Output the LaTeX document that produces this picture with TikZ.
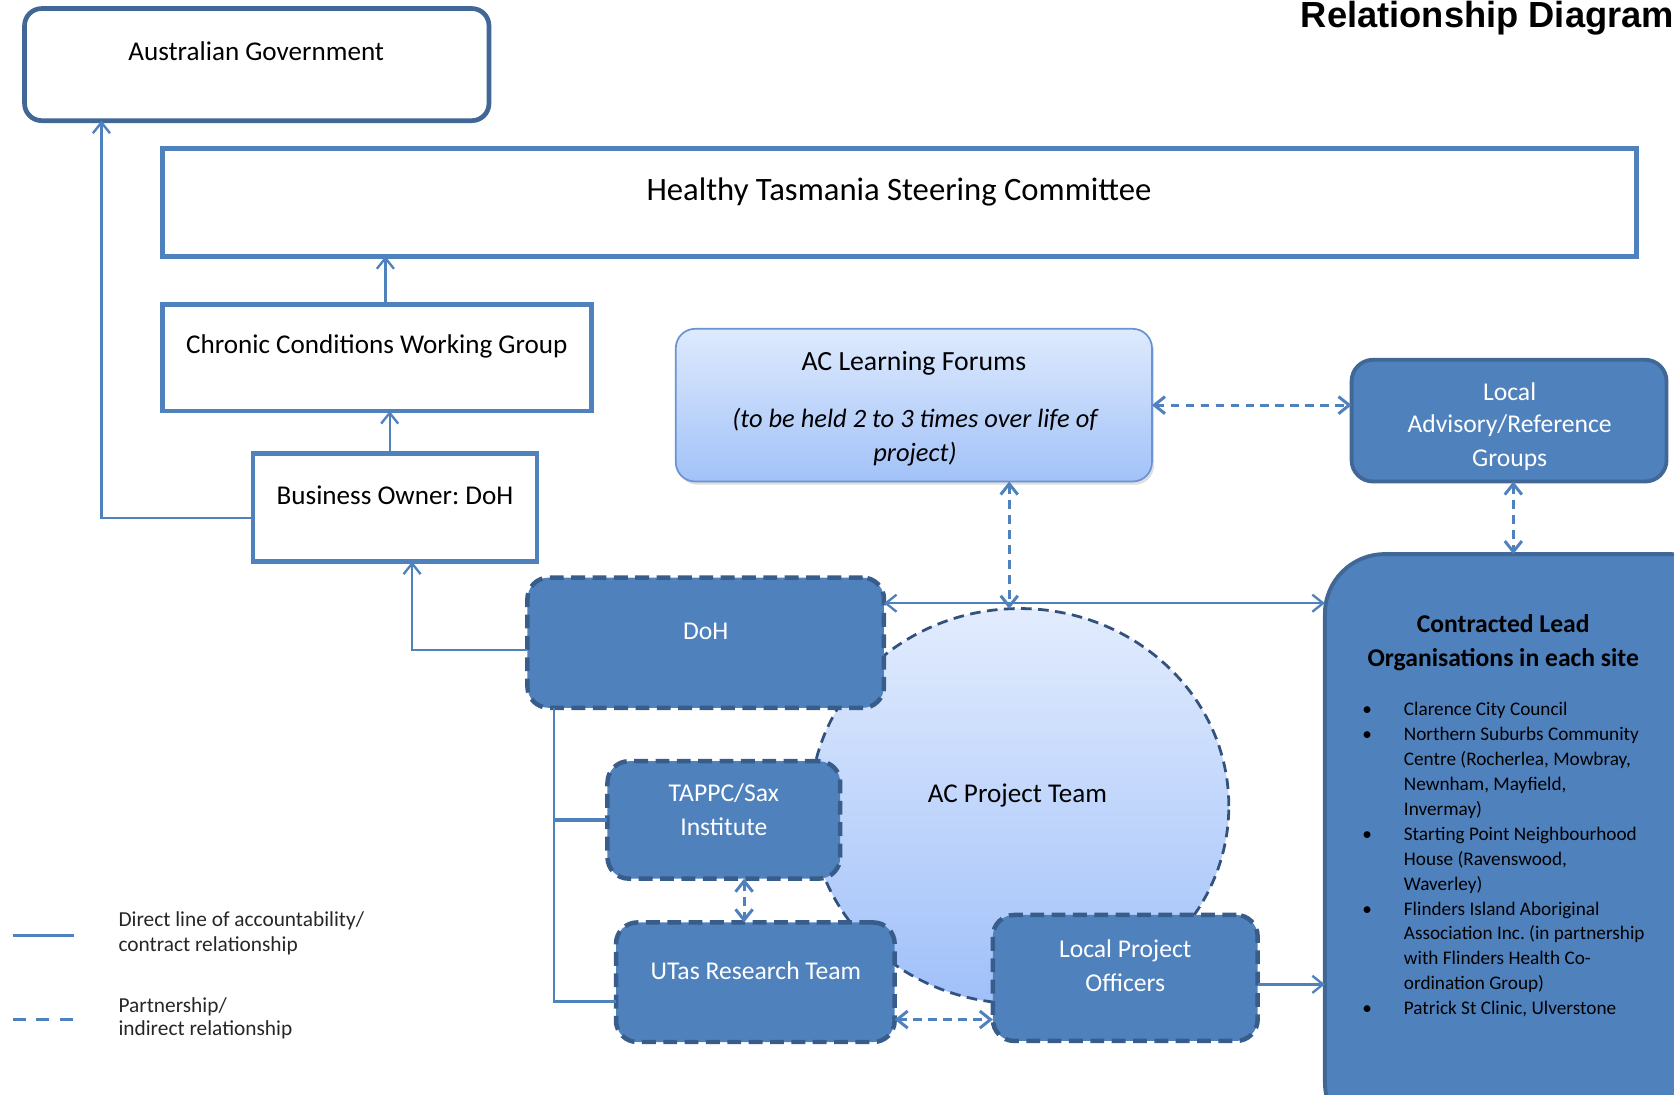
\documentclass[tikz,border=0pt]{standalone}
\usepackage{fontspec}
\setmainfont{Carlito}
\newfontfamily\arialfont{Liberation Sans}
\usetikzlibrary{arrows.meta,shapes.geometric,fit,shadows,calc}
\definecolor{medblue}{RGB}{79,129,189}
\definecolor{agblue}{RGB}{65,103,150}
\definecolor{darkedge}{RGB}{56,93,138}
\definecolor{linec}{RGB}{79,129,189}
\definecolor{lftop}{RGB}{222,234,253}
\definecolor{lfbot}{RGB}{162,194,248}
\definecolor{lfedge}{RGB}{105,147,210}
\definecolor{elltop}{RGB}{226,236,253}
\definecolor{ellbot}{RGB}{160,192,250}
\definecolor{elledge}{RGB}{50,82,125}
\definecolor{legtext}{RGB}{38,38,38}
\frenchspacing
\begin{document}
\begin{tikzpicture}[x=0.5pt,y=-0.5pt,
  every node/.style={inner sep=0pt, outer sep=0pt},
  frame/.style={draw=medblue, line width=2.3pt},
  agbox/.style={draw=agblue, line width=2.2pt, rounded corners=8pt},
  darkbox/.style={fill=medblue, draw=darkedge, line width=2.1pt, dash pattern=on 6.5pt off 3.5pt, rounded corners=10pt},
  solidbox/.style={fill=medblue, draw=agblue, line width=1.8pt, rounded corners=10pt},
  lbl/.style={anchor=base, font=\fontsize{12.7}{15}\selectfont, text=black},
  wlbl/.style={anchor=base, font=\fontsize{12}{15}\selectfont, text=white},
  leg/.style={anchor=base west, font=\fontsize{10}{12}\selectfont, text=legtext},
  conn/.style={draw=linec, line width=1.1pt},
  dconn/.style={conn, line width=1.4pt, dash pattern=on 4pt off 3pt},
  >={Straight Barb[length=5pt,width=8pt]}]
\path[use as bounding box] (0,0) rectangle (1568,1025);
\clip (0,0) rectangle (1568,1025);

% top boxes
\node[agbox, fit={(23,8) (458,113)}] (ag) {};
\node[lbl] (agt) at (240,57) {Australian Government};
\node[frame, fit={(152,139) (1533,240)}] (ht) {};
\node[lbl, font=\fontsize{15.3}{18}\selectfont] (htt) at (842,188) {Healthy Tasmania Steering Committee};
\node[anchor=base east, font=\arialfont\bfseries\fontsize{17}{20}\selectfont] (title) at (1568,26) {Relationship Diagram};
\node[frame, line width=2.2pt, fit={(152,285) (554,385)}] (cc) {};
\node[lbl] (cct) at (353,331) {Chronic Conditions Working Group};
\node[frame, line width=2.2pt, fit={(237,425) (503,526)}] (bo) {};
\node[lbl] (bot) at (370,473) {Business Owner: DoH};

% learning forums
\node[fit={(633,308) (1079,451)}, rounded corners=9pt, draw=lfedge, line width=0.8pt,
  top color=lftop, bottom color=lfbot,
  drop shadow={opacity=0.25, shadow xshift=1pt, shadow yshift=-1.5pt}] (lf) {};
\node[lbl, font=\fontsize{13}{15}\selectfont] (lft1) at (856,347) {AC Learning Forums};
\node[lbl, font=\fontsize{12.4}{15}\itshape] (lft2) at (857,400) {(to be held 2 to 3 times over life of};
\node[lbl, font=\fontsize{12.4}{15}\itshape] (lft3) at (857,432) {project)};

% local advisory
\node[solidbox, fit={(1266,337) (1561,451)}] (la) {};
\node[wlbl] (lat1) at (1414,375) {Local};
\node[wlbl] (lat2) at (1414,405) {Advisory/Reference};
\node[wlbl] (lat3) at (1414,437) {Groups};

% contracted lead organisations
\node[solidbox, rounded corners=28pt, fit={(1241,519) (1620,1070)}] (clo) {};
\node[anchor=base, font=\fontsize{12}{15}\bfseries] (clot1) at (1408,592) {Contracted Lead};
\node[anchor=base, font=\fontsize{12}{15}\bfseries] (clot2) at (1408,624) {Organisations in each site};
\node[anchor=north west, font=\fontsize{9}{11.67}\selectfont, text=black] (list) at (1276,654) {%
\begin{tabular}{@{}p{19.5pt}@{}l@{}}
\textbullet & Clarence City Council\\
\textbullet & Northern Suburbs Community\\
 & Centre (Rocherlea, Mowbray,\\
 & Newnham, Mayfield,\\
 & Invermay)\\
\textbullet & Starting Point Neighbourhood\\
 & House (Ravenswood,\\
 & Waverley)\\
\textbullet & Flinders Island Aboriginal\\
 & Association Inc. (in partnership\\
 & with Flinders Health Co-\\
 & ordination Group)\\
\textbullet & Patrick St Clinic, Ulverstone
\end{tabular}};

% AC project team
\node[ellipse, minimum width=196pt, minimum height=185pt, top color=elltop, bottom color=ellbot,
  draw=elledge, line width=1.3pt, dash pattern=on 5pt off 3pt] (apt) at (955,755) {};
\node[lbl, font=\fontsize{12.7}{15}\selectfont] (aptt) at (953,752) {AC Project Team};

% dark dashed boxes
\node[darkbox, fit={(494,541) (828,663)}] (doh) {};
\node[wlbl] (doht) at (661,599) {DoH};
\node[darkbox, fit={(569,713) (787,823)}] (ta) {};
\node[wlbl] (tat1) at (678,751) {TAPPC/Sax};
\node[wlbl] (tat2) at (678,783) {Institute};
\node[darkbox, fit={(577,864) (838,976)}] (ut) {};
\node[wlbl] (utt) at (708,917) {UTas Research Team};
\node[darkbox, fit={(930,857) (1178,975)}] (lpo) {};
\node[wlbl] (lpot1) at (1054,897) {Local Project};
\node[wlbl] (lpot2) at (1054,929) {Officers};

% solid connectors
\draw[conn,->] ([yshift=-4.75pt]bo.west) -| ([xshift=36pt]ag.south west);
\draw[conn,->] ([xshift=4pt]cc.north) -- ([xshift=4pt]cc.north |- ht.south);
\draw[conn,->] ([xshift=-2.5pt]bo.north) -- ([xshift=-2.5pt]bo.north |- cc.south);
\draw[conn,->] ([yshift=-3.5pt]doh.west) -| ([xshift=8pt]bo.south);
\draw[conn,<->] ([yshift=18.5pt]doh.east) -- ([yshift=18.5pt]doh.east -| clo.west);
\coordinate (trunk) at ([xshift=12.5pt]doh.south west);
\draw[conn] (trunk) |- ([yshift=-9pt]ut.west);
\draw[conn, line width=2pt] (ta.west) -- (ta.west -| trunk);
\draw[conn,->] ([yshift=-3pt]lpo.east) -- ([yshift=-3pt]lpo.east -| clo.west);

% dashed connectors
\draw[dconn,<->] (lf.east) -- (lf.east -| la.west);
\draw[dconn,<->] ([xshift=2pt]la.south) -- ([xshift=2pt]la.south |- clo.north);
\draw[dconn,<->] (apt.93 |- lf.south) -- (apt.93);
\draw[dconn,<->] ([xshift=9.5pt]ta.south) -- ([xshift=9.5pt]ta.south |- ut.north);
\draw[dconn,<->] ([yshift=-17.5pt]ut.east) -- ([yshift=-17.5pt]ut.east -| lpo.west);

% legend
\coordinate (l1a) at (12,876);
\coordinate (l1b) at (69,876);
\draw[conn, line width=1.3pt] (l1a) -- (l1b);
\coordinate (l2a) at (12,955);
\coordinate (l2b) at (69,955);
\draw[conn, line width=1.3pt, dash pattern=on 6pt off 5pt] (l2a) -- (l2b);
\node[leg] (leg1a) at (111,868) {Direct line of accountability/};
\node[leg] (leg1b) at (111,891) {contract relationship};
\node[leg] (leg2a) at (111,948) {Partnership/};
\node[leg] (leg2b) at (111,970) {indirect relationship};
\end{tikzpicture}
\end{document}
